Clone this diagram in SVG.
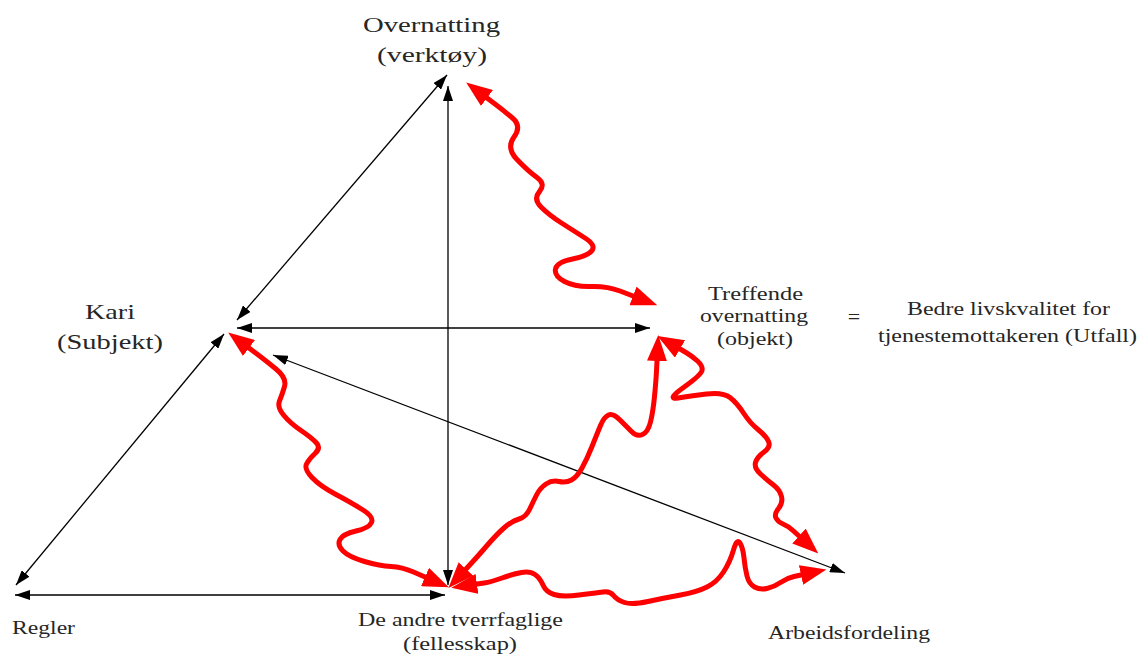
<svg xmlns="http://www.w3.org/2000/svg" width="1144" height="657" viewBox="0 0 1144 657">
  <style>
    .lbl { font-family: "Liberation Serif", "Times New Roman", serif; fill: #262626; }
    .big { font-size: 22px; }
    .mid { font-size: 19px; }
    .sml { font-size: 18px; }
    .ln { stroke: #000; stroke-width: 1.3; fill: none; marker-start: url(#ah); marker-end: url(#ah); }
    .wave { stroke: #f00; stroke-width: 5; fill: none; stroke-linecap: round; stroke-linejoin: round; marker-start: url(#rh); marker-end: url(#rh); }
  </style>
  <defs>
    <marker id="ah" viewBox="0 0 15 10" refX="15" refY="5" markerWidth="15" markerHeight="10" markerUnits="userSpaceOnUse" orient="auto-start-reverse">
      <path d="M0,0 L15,5 L0,10 z" fill="#000"/>
    </marker>
    <marker id="rh" viewBox="0 0 26 20" refX="0" refY="10" markerWidth="26" markerHeight="20" markerUnits="userSpaceOnUse" orient="auto-start-reverse">
      <path d="M0,0 L26,10 L0,20 z" fill="#f00"/>
    </marker>
  </defs>
  <rect width="1144" height="657" fill="#fff"/>

  <g id="connectors">
    <!-- straight two-way relations -->
    <line class="ln" x1="448" y1="86" x2="448" y2="585"/>
    <line class="ln" x1="447" y1="75" x2="237" y2="320"/>
    <line class="ln" x1="237" y1="328" x2="650" y2="328"/>
    <line class="ln" x1="224" y1="334" x2="16" y2="585"/>
    <line class="ln" x1="15" y1="595" x2="445" y2="595"/>
    <line class="ln" x1="273" y1="355" x2="845" y2="573"/>

    <!-- wavy tension arrows -->
    <path class="wave" d="M487,98 L495,104 Q503,110 512.5,118 Q522,126 514,137 Q506,148 517,159.5 Q528,171 537,177.5 Q546,184 539.5,191.5 Q533,199 541,207 Q549,215 561.5,223 Q574,231 585,238 Q596,245 592,250.5 Q588,256 572.5,259 Q557,262 555.5,269 Q554,276 564.5,281.5 Q575,287 591,286.5 Q607,286 620,291 L633,296"/>
    <path class="wave" d="M249,348 L257,354 Q265,360 276,369 Q287,378 284.5,386.5 Q282,395 279.5,401 Q277,407 283.5,415 Q290,423 301,430.5 Q312,438 316.5,443 Q321,448 315,453.5 Q309,459 306.5,464 Q304,469 312,477.5 Q320,486 336,494.5 Q352,503 363,510 Q374,517 371.5,522.5 Q369,528 356,531 Q343,534 340,539.5 Q337,545 343,551 Q349,557 364.5,561.5 Q380,566 391,566.5 Q402,567 413.5,572 L425,577"/>
    <path class="wave" d="M466,569 L472,562.5 Q478,556 487.5,545 Q497,534 504.5,527.5 Q512,521 519,519 Q526,517 529.5,509.5 Q533,502 536.5,495 Q540,488 546,484 Q552,480 559,481.5 Q566,483 571.5,480 Q577,477 582,468 Q587,459 592,446.5 Q597,434 600.5,425.5 Q604,417 608.5,415 Q613,413 620,420 Q627,427 632,432 Q637,437 642.5,434.5 Q648,432 650.5,422 Q653,412 654.5,396.5 Q656,381 656.5,371 L657,361"/>
    <path class="wave" d="M680,349 L686,352.5 Q692,356 697.5,361 Q703,366 702,370.5 Q701,375 683.5,387.5 Q666,400 678,398 Q690,396 706.5,394 Q723,392 730,397.5 Q737,403 743.5,413 Q750,423 758,429.5 Q766,436 768.5,441.5 Q771,447 764,452 Q757,457 755.5,462.5 Q754,468 760.5,474 Q767,480 773.5,485 Q780,490 781.5,496.5 Q783,503 778.5,508.5 Q774,514 776,518 Q778,522 783,524 Q788,526 793.5,531 L799,536"/>
    <path class="wave" d="M477,584 L484,583 Q491,582 502,578 Q513,574 521.5,572.5 Q530,571 535,574.5 Q540,578 543,585 Q546,592 554,594.5 Q562,597 579,595 Q596,593 603,592 Q610,591 613.5,595.5 Q617,600 624.5,602.5 Q632,605 648,601.5 Q664,598 680.5,595 Q697,592 707,587 Q717,582 723.5,572 Q730,562 733.5,550 Q737,538 740,543 Q743,548 744,558 Q745,568 747,576 Q749,584 754.5,587 Q760,590 767,588.5 Q774,587 780.5,582.5 Q787,578 794,576.5 L801,575"/>
  </g>

  <g id="node-overnatting">
    <text class="lbl big" x="363" y="32" textLength="137" lengthAdjust="spacingAndGlyphs">Overnatting</text>
    <text class="lbl big" x="377" y="62" textLength="110" lengthAdjust="spacingAndGlyphs">(verktøy)</text>
  </g>
  <g id="node-kari">
    <text class="lbl big" x="85" y="319" textLength="50" lengthAdjust="spacingAndGlyphs">Kari</text>
    <text class="lbl big" x="57" y="349" textLength="106" lengthAdjust="spacingAndGlyphs">(Subjekt)</text>
  </g>
  <g id="node-treffende">
    <text class="lbl mid" x="708" y="300" textLength="95" lengthAdjust="spacingAndGlyphs">Treffende</text>
    <text class="lbl mid" x="700" y="322" textLength="108" lengthAdjust="spacingAndGlyphs">overnatting</text>
    <text class="lbl mid" x="717" y="345" textLength="76" lengthAdjust="spacingAndGlyphs">(objekt)</text>
  </g>
  <g id="node-utfall">
    <text class="lbl big" x="854" y="324" text-anchor="middle">=</text>
    <text class="lbl mid" x="907" y="315" textLength="203" lengthAdjust="spacingAndGlyphs">Bedre livskvalitet for</text>
    <text class="lbl mid" x="878" y="342" textLength="259" lengthAdjust="spacingAndGlyphs">tjenestemottakeren (Utfall)</text>
  </g>
  <g id="node-regler">
    <text class="lbl sml" x="12" y="634" textLength="63" lengthAdjust="spacingAndGlyphs">Regler</text>
  </g>
  <g id="node-deandre">
    <text class="lbl sml" x="358" y="626" textLength="205" lengthAdjust="spacingAndGlyphs">De andre tverrfaglige</text>
    <text class="lbl sml" x="403" y="650" textLength="114" lengthAdjust="spacingAndGlyphs">(fellesskap)</text>
  </g>
  <g id="node-arbeid">
    <text class="lbl sml" x="768" y="639" textLength="162" lengthAdjust="spacingAndGlyphs">Arbeidsfordeling</text>
  </g>
</svg>
